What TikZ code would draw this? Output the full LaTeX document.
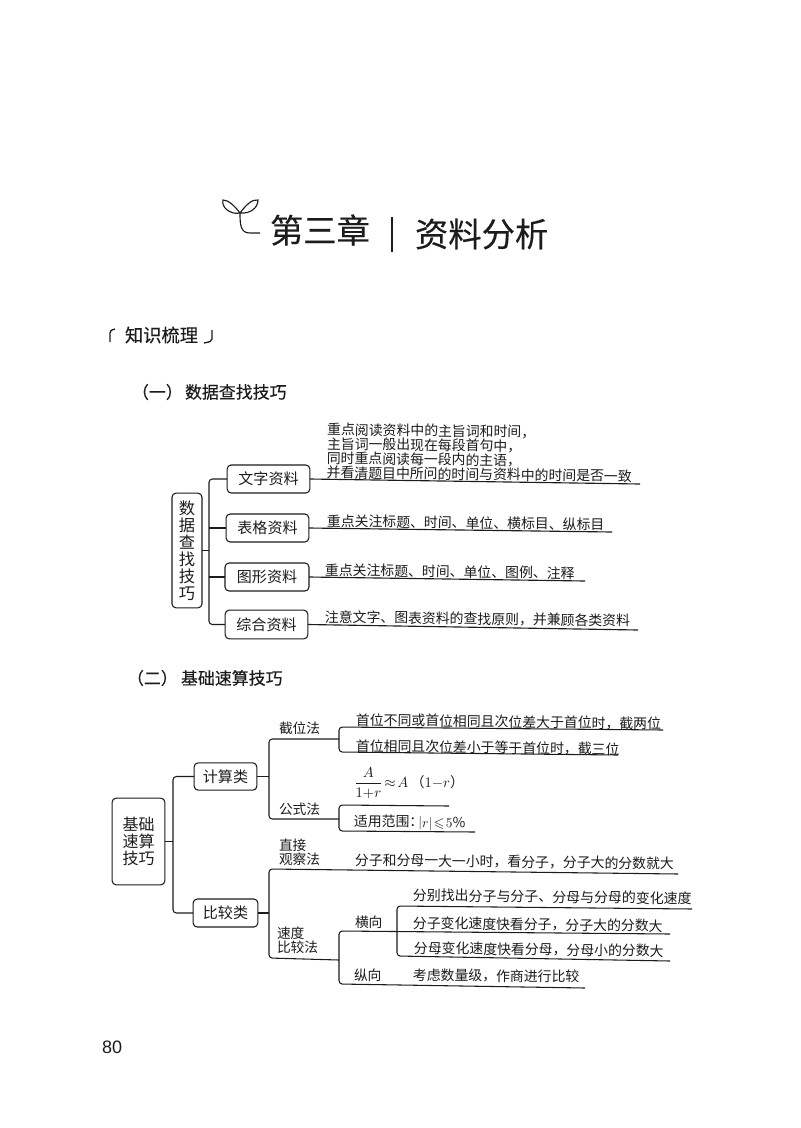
\documentclass[tikz,border=0pt]{standalone}
\usepackage{amssymb}
\usepackage{fontspec}
\setmainfont{Noto Sans CJK SC}
\newfontfamily\latinsans{Liberation Sans}
\newfontfamily\heavy[FakeBold=0.25]{Noto Sans CJK SC}
\definecolor{ink}{HTML}{1c1c1c}
\newcommand{\fs}[1]{\fontsize{#1}{#1}\selectfont}
\tikzset{
  every node/.style={inner sep=0pt,outer sep=0pt,text=ink},
  link/.style={draw=ink,line width=0.8pt,rounded corners=2.5pt},
  under/.style={draw=ink,line width=0.85pt},
  box/.style={draw=ink,line width=0.8pt,rounded corners=3pt,align=center},
  groupbox/.style={box,font=\fs{11.3}},
  tbody/.style={anchor=west,font=\fs{10.4},rotate=-0.7},
  method/.style={anchor=west,font=\fs{10.3},align=left},
  ornament/.style={draw=ink,line width=0.85pt},
}
\begin{document}
\begin{tikzpicture}[x=0.75pt,y=-0.75pt]
\useasboundingbox (0,0) rectangle (800,1128);
\fill[white] (0,0) rectangle (800,1128);

% ---- chapter head ----
\draw[ornament] (240,213) .. controls (234,205) and (228,200) .. (223,200)
   .. controls (221,207) and (230,215) .. (240,213);
\draw[ornament] (240,213) .. controls (246,205) and (252,199) .. (258,200)
   .. controls (258,208) and (250,214) .. (240,213);
\draw[ornament] (240,213) .. controls (240,226) and (241,233) .. (250,233) -- (260,233);
\node[anchor=west,font=\heavy\fs{25}] (ch1) at (270,230) {第三章};
\draw[ink,line width=1.1pt] (392,217) -- (392,252);
\node[anchor=west,font=\heavy\fs{25}] (ch2) at (415,234) {资料分析};

% ---- section heads ----
\draw[ornament,line width=1pt] (110,342) -- (110,333) .. controls (110,331) and (111,330) .. (115,329);
\node[anchor=west,font=\heavy\fs{13.7}] (sec) at (125,335) {知识梳理};
\draw[ornament,line width=1pt] (212,330) -- (212,339) .. controls (212,341) and (210,342) .. (204,343);
\node[anchor=west,font=\heavy\fs{12.7}] (s1a) at (132,392) {（一）};
\node[anchor=west,font=\heavy\fs{12.7}] (s1) at (185,392) {数据查找技巧};
\node[anchor=west,font=\heavy\fs{12.7}] (s2a) at (127,678) {（二）};
\node[anchor=west,font=\heavy\fs{12.7}] (s2) at (181,678) {基础速算技巧};

% ---- diagram 1 ----
\node[box,font=\fs{12.2},minimum width=22.5pt,minimum height=86pt] (root1) at (187,550.5) {数\\[0.6pt]据\\[0.6pt]查\\[0.6pt]找\\[0.6pt]技\\[0.6pt]巧};
\node[groupbox,minimum width=62pt,minimum height=21pt] (wz) at (268.5,479) {文字资料};
\node[groupbox,minimum width=62pt,minimum height=21pt] (bg) at (267.5,528) {表格资料};
\node[groupbox,minimum width=63pt,minimum height=21pt] (tx) at (267,577) {图形资料};
\node[groupbox,minimum width=62pt,minimum height=21.5pt] (zh) at (266.5,624.5) {综合资料};
\coordinate (tr1) at (209,550);
\draw[link] (wz.west) -- (tr1 |- wz.west) -- (tr1 |- zh.west) -- (zh.west);
\draw[link] (bg.west) -- (tr1 |- bg.west);
\draw[link] (tx.west) -- (tr1 |- tx.west);
\draw[link] (root1.east) -- (tr1 |- root1.east);
\coordinate (e1) at (640,484);
\coordinate (e2) at (612,532);
\coordinate (e3) at (585,581);
\coordinate (e4) at (638,630);
\draw[under] (wz.east) -- (e1);
\draw[under] (bg.east) -- (e2);
\draw[under] (tx.east) -- (e3);
\draw[under] (zh.east) -- (e4);
\node[tbody,align=left,font=\fontsize{10.4}{10.75}\selectfont] (t1) at (327,451) {重点阅读资料中的主旨词和时间，\\主旨词一般出现在每段首句中，\\同时重点阅读每一段内的主语，\\并看清题目中所问的时间与资料中的时间是否一致};
\node[tbody] (t5) at (327,521) {重点关注标题、时间、单位、横标目、纵标目};
\node[tbody] (t6) at (325,570) {重点关注标题、时间、单位、图例、注释};
\node[tbody] (t7) at (325,617) {注意文字、图表资料的查找原则，并兼顾各类资料};

% ---- diagram 2 ----
\node[box,font=\fs{12},minimum width=39.5pt,minimum height=65pt] (root2) at (138.5,841.5) {基础\\[1pt]速算\\[1pt]技巧};
\node[groupbox,minimum width=47pt,minimum height=20.5pt] (js) at (225.5,776.5) {计算类};
\node[groupbox,minimum width=48.5pt,minimum height=21pt] (bj) at (225.5,913) {比较类};
\coordinate (tr2) at (173,842);
\draw[link] (js.west) -- (tr2 |- js.west) -- (tr2 |- bj.west) -- (bj.west);
\draw[link] (root2.east) -- (tr2 |- root2.east);

% compute branch
\coordinate (jw) at (339,739);
\coordinate (gs) at (339,819);
\coordinate (jw1) at (663,730);
\coordinate (jw2) at (618,755);
\coordinate (gs1) at (449,806);
\coordinate (gs2) at (475,832);
\coordinate (tr3) at (269,777);
\draw[link] (js.east) -- (tr3 |- js.east);
\draw[link] (jw) -- (tr3 |- jw) -- (tr3 |- gs) -- (gs);
\draw[link] (jw1) -- (339,727) -- (339,752) -- (jw2);
\draw[link] (gs1) -- (339,805) -- (339,831) -- (gs2);

% compare branch
\coordinate (zg) at (678,874);
\coordinate (sd) at (339,960);
\coordinate (hx) at (670,934);
\coordinate (zx) at (585,988);
\coordinate (fb) at (692,909);
\coordinate (fm) at (670,961);
\draw[link] (bj.east) -- (tr3 |- bj.east);
\draw[link] (zg) -- (269,869) -- (269,958) -- (sd);
\draw[link] (hx) -- (339,931) -- (339,984) -- (zx);
\draw[link] (fb) -- (397,906) -- (397,956) -- (fm);

% method labels
\node[method] (m1) at (279,728) {截位法};
\node[method] (m2) at (279,809) {公式法};
\node[method] (m3) at (279,852) {直接\\观察法};
\node[method] (m4) at (277,940) {速度\\比较法};
\node[method] (m5) at (355,922) {横向};
\node[method] (m6) at (354,975) {纵向};

% leaf texts
\node[tbody] (a1) at (356,720) {首位不同或首位相同且次位差大于首位时，截两位};
\node[tbody] (a2) at (356,746) {首位相同且次位差小于等于首位时，截三位};
\node[anchor=west,font=\fs{10.5}] (a3) at (354,783) {$\displaystyle\frac{A}{1{+}r}\!\approx\! A$\hspace{0.15em}（$1{-}r$）};
\node[tbody] (a4) at (354,822) {适用范围：\hspace{-0.35em}$|r|\!\leqslant\! 5\%$};
\node[tbody] (a5) at (355,860) {分子和分母一大一小时，看分子，分子大的分数就大};
\node[tbody,font=\fs{10.45}] (a6) at (413,895) {分别找出分子与分子、分母与分母的变化速度};
\node[tbody] (a7) at (413,923) {分子变化速度快看分子，分子大的分数大};
\node[tbody] (a8) at (414,948) {分母变化速度快看分母，分母小的分数大};
\node[tbody] (a9) at (413,975) {考虑数量级，作商进行比较};

\node[anchor=west,font=\latinsans\fs{13.5}] (pg) at (102,1047) {80};
\end{tikzpicture}
\end{document}
